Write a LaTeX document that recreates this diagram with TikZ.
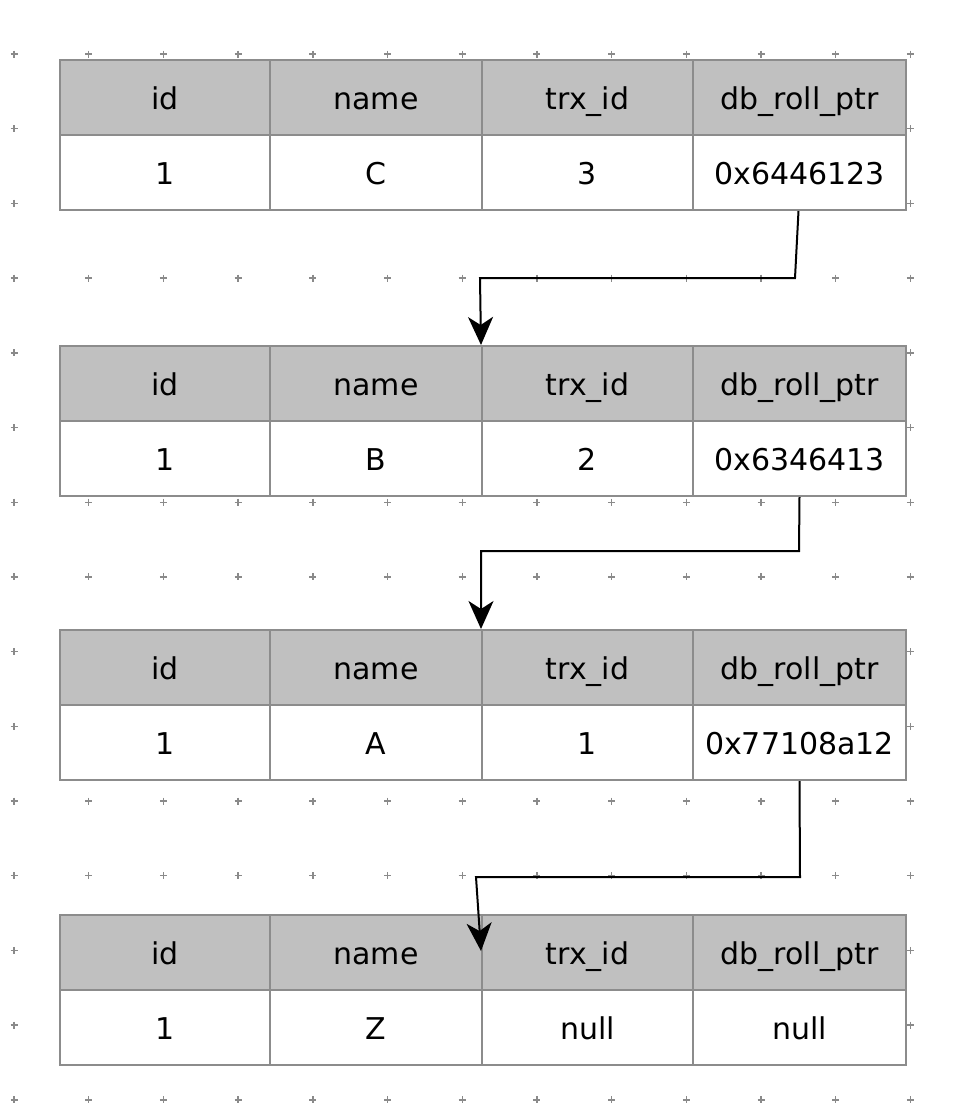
\documentclass[tikz,border=0pt]{standalone}
\usepackage{fontspec}
\setmainfont{DejaVu Sans}
\usetikzlibrary{arrows.meta}
\definecolor{cellline}{HTML}{8C8C8C}
\definecolor{headfill}{HTML}{C0C0C0}
\definecolor{dotcol}{HTML}{8A8A8A}
\tikzset{
  cell/.style={draw=cellline, line width=1pt, rectangle, inner sep=0pt,
    text height=13pt, text depth=1.5pt,
    minimum height=37.5pt, anchor=north west, font=\fontsize{15pt}{18pt}\selectfont},
  headcell/.style={cell, fill=headfill},
  valcell/.style={cell, fill=white},
  link/.style={draw=black, line width=1pt, -{Stealth[length=14pt,width=12.5pt,inset=4pt]}},
  griddot/.style={draw=dotcol, line width=0.7pt}
}
\begin{document}
\begin{tikzpicture}[x=0.5pt,y=-0.5pt]
\useasboundingbox (0,0) rectangle (974,1114);
% grid of small plus marks
\foreach \i in {0,...,12}{
  \foreach \j in {0,...,14}{
    \draw[griddot] ({14+74.7*\i-3.5},{54+74.7*\j}) -- ++(7,0);
    \draw[griddot] ({14+74.7*\i},{54+74.7*\j-3.5}) -- ++(0,7);
  }
}
% tables
\foreach \t/\y/\n/\tr/\p in {1/59/C/3/0x6446123, 2/345/B/2/0x6346413, 3/629/A/1/0x77108a12, 4/914/Z/null/null}{
  \node[headcell, minimum width=105pt] (h\t-1) at (59,\y) {id};
  \node[headcell, minimum width=106pt] (h\t-2) at (269,\y) {name};
  \node[headcell, minimum width=105.5pt] (h\t-3) at (481,\y) {trx\_id};
  \node[headcell, minimum width=106.5pt] (h\t-4) at (692,\y) {db\_roll\_ptr};
  \node[valcell, minimum width=105pt] (v\t-1) at (59,\y+75) {1};
  \node[valcell, minimum width=106pt] (v\t-2) at (269,\y+75) {\n};
  \node[valcell, minimum width=105.5pt] (v\t-3) at (481,\y+75) {\tr};
  \node[valcell, minimum width=106.5pt] (v\t-4) at (692,\y+75) {\p};
}
% connectors
\coordinate (s1) at ([xshift=-0.5pt]v1-4.south);
\coordinate (b1a) at (795,278);
\coordinate (b1b) at (480,278);
\coordinate (b2a) at (799,551);
\coordinate (b2b) at (481,551);
\coordinate (b3a) at (800,877);
\coordinate (b3b) at (476,877);
\coordinate (e3) at (481,951);
\draw[link] (s1) -- (b1a) -- (b1b) -- (h2-3.north west);
\draw[link] (v2-4.south) -- (b2a) -- (b2b) -- (h3-3.north west);
\draw[link] (v3-4.south) -- (b3a) -- (b3b) -- (e3);
\end{tikzpicture}
\end{document}
